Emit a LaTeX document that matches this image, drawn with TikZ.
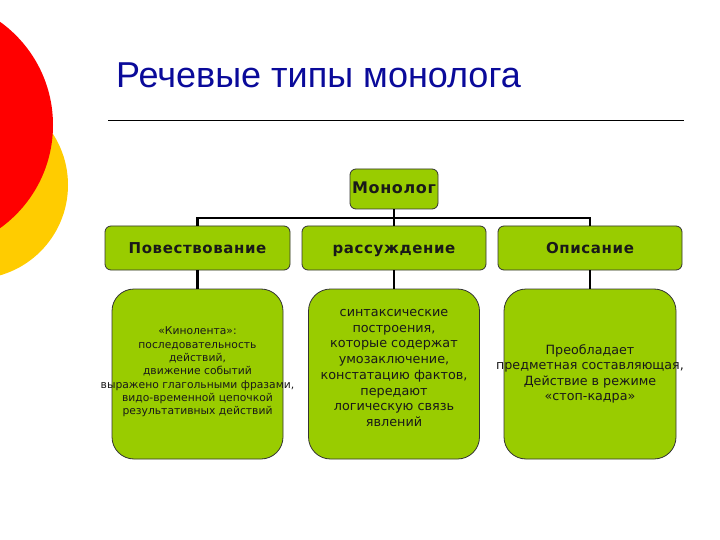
\documentclass[tikz,border=0pt]{standalone}
\usepackage{fontspec}
\setmainfont{DejaVu Sans}
\newfontfamily\titlefont{Liberation Sans}
\newfontfamily\widefont[LetterSpace=4]{DejaVu Sans}
\definecolor{boxgreen}{HTML}{99CC00}
\definecolor{titleblue}{HTML}{0A0A9A}
\definecolor{discred}{HTML}{FF0000}
\definecolor{discyellow}{HTML}{FFCC00}
\tikzset{
  smallbox/.style={draw=black!80, line width=0.8pt, fill=boxgreen, rounded corners=6pt, inner sep=0pt},
  bigbox/.style={draw=black!80, line width=0.8pt, fill=boxgreen, rounded corners=22pt, inner sep=0pt},
  conn/.style={draw=black, line width=2.4pt},
  boxtext/.style={align=center, inner sep=0pt, text=black!90},
  headtext/.style={anchor=base, inner sep=0pt, text=black!90, font=\widefont\bfseries\fontsize{15}{18}\selectfont},
}
\begin{document}
\begin{tikzpicture}[x=1pt,y=-1pt]
\useasboundingbox (0,0) rectangle (720,540);
% discs
\fill[discyellow] (-26,185) circle (94);
\fill[discred] (-74,125) circle (127);
% title
\node[anchor=base west, inner sep=0pt, text=titleblue, font=\titlefont\fontsize{36}{42}\selectfont] (title) at (116,88) {Речевые типы монолога};
\draw[line width=0.8pt] (108,120) -- (684,120);
% top box
\node[smallbox, minimum width=88pt, minimum height=40pt] (m) at (394,189) {};
\node[headtext, font=\widefont\bfseries\fontsize{16}{19}\selectfont] (mt) at (394,194) {Монолог};
% second row
\node[smallbox, minimum width=185pt, minimum height=44pt] (p) at (197.5,248) {};
\node[smallbox, minimum width=184pt, minimum height=44pt] (r) at (394,248) {};
\node[smallbox, minimum width=184pt, minimum height=44pt] (o) at (590,248) {};
\node[headtext] (pt) at (197.5,254) {Повествование};
\node[headtext] (rt) at (394,254) {рассуждение};
\node[headtext] (ot) at (590,254) {Описание};
% third row
\node[bigbox, minimum width=171pt, minimum height=170pt] (p2) at (197.5,374) {};
\node[bigbox, minimum width=171pt, minimum height=170pt] (r2) at (394,374) {};
\node[bigbox, minimum width=172pt, minimum height=170pt] (o2) at (590,374) {};
\node[boxtext, font=\fontsize{10.75}{13.3}\selectfont] (p2t) at (197.5,372) {«Кинолента»:\\последовательность\\действий,\\движение событий\\выражено глагольными фразами,\\видо-временной цепочкой\\результативных действий};
\node[boxtext, font=\fontsize{12.8}{15.7}\selectfont] (r2t) at (394,368) {синтаксические\\построения,\\которые содержат\\умозаключение,\\констатацию фактов,\\передают\\логическую связь\\явлений};
\node[boxtext, font=\fontsize{12.7}{15.3}\selectfont] (o2t) at (590,374) {Преобладает\\предметная составляющая,\\Действие в режиме\\«стоп-кадра»};
% connectors
\coordinate (j) at (394,218);
\draw[conn] (m.south) -- (j);
\draw[conn] (p.north) |- (j) -| (o.north);
\draw[conn] (j) -- (r.north);
\draw[conn] (p.south) -- (p2.north);
\draw[conn] (r.south) -- (r2.north);
\draw[conn] (o.south) -- (o2.north);
\end{tikzpicture}
\end{document}
